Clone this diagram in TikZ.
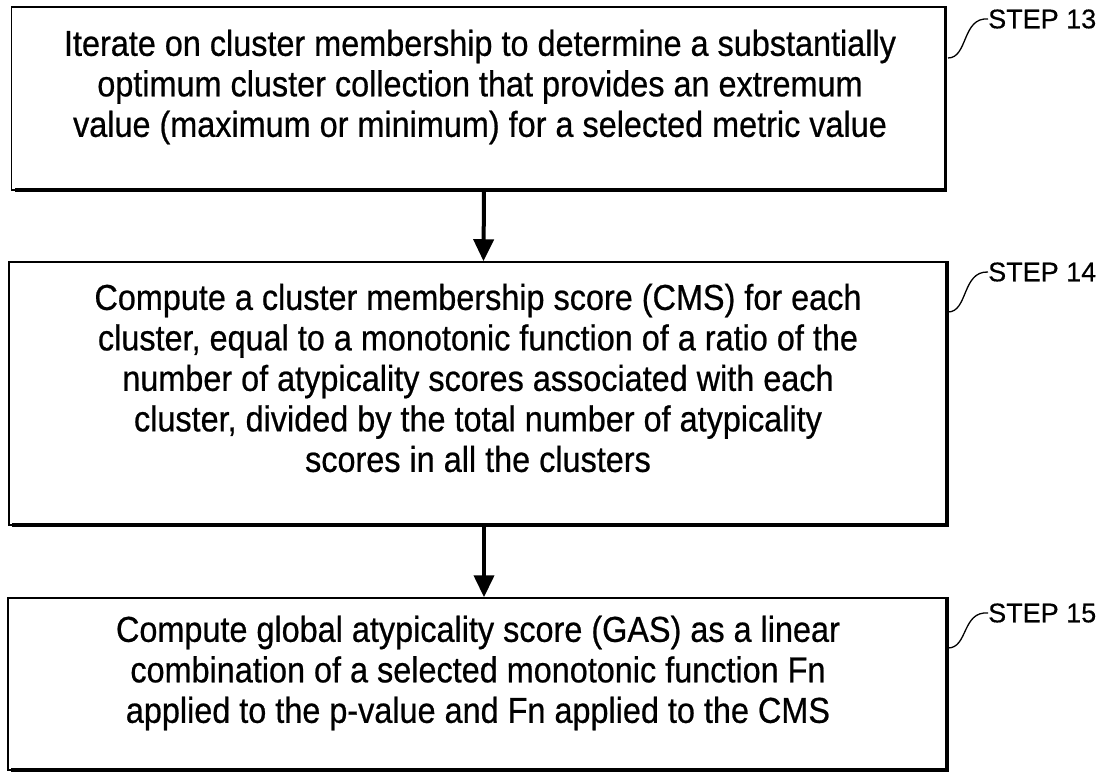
\documentclass[tikz,border=0pt]{standalone}
\usepackage{fontspec}
\setmainfont[FakeBold=0.6,FakeStretch=0.9]{Liberation Sans}
\newfontfamily\stepfont[FakeBold=0.4]{Liberation Sans}
\usetikzlibrary{arrows.meta}
\begin{document}
\begin{tikzpicture}[x=1pt,y=-1pt,
  stepbox/.style={draw=black,line width=1.5pt,minimum width=#1,inner sep=0pt},
  bodytext/.style={align=center,font=\fontsize{36}{40.5}\selectfont,inner sep=0pt},
  steptext/.style={anchor=west,font=\stepfont\fontsize{27}{30}\selectfont,inner sep=0pt},
  leader/.style={line width=1.3pt},
  flow/.style={line width=4pt,-{Triangle[length=22pt,width=20pt]}},
  shadowline/.style={line width=3.5pt}
]
\useasboundingbox (0,0) rectangle (1106,774);
% boxes
\node[stepbox=934pt,minimum height=183pt] (b1) at (478.5,98.5) {};
\node[stepbox=938pt,minimum height=263pt] (b2) at (478,393.5) {};
\node[stepbox=939pt,minimum height=172pt] (b3) at (477.5,684) {};
% shadows
\foreach \b in {b1,b2,b3}{
  \draw[shadowline] ([xshift=-1pt]\b.north east) -- ([xshift=-1pt,yshift=1pt]\b.south east) -- ([xshift=4pt,yshift=1pt]\b.south west);
}
% texts
\node[bodytext] (t1) at (480,87) {Iterate on cluster membership to determine a substantially\\optimum cluster collection that provides an extremum\\value (maximum or minimum) for a selected metric value};
\node[bodytext] (t2) at (478,378) {Compute a cluster membership score (CMS) for each\\cluster, equal to a monotonic function of a ratio of the\\number of atypicality scores associated with each\\cluster, divided by the total number of atypicality\\scores in all the clusters};
\node[bodytext] (t3) at (478,673) {Compute global atypicality score (GAS) as a linear\\combination of a selected monotonic function Fn\\applied to the p-value and Fn applied to the CMS};
% arrows
\draw[flow] ([xshift=5.5pt,yshift=1pt]b1.south) -- ([xshift=5.5pt]b2.north);
\draw[flow] ([xshift=6pt,yshift=1pt]b2.south) -- ([xshift=6.5pt]b3.north);
% step labels
\node[steptext] (s1) at (988,19) {STEP 13};
\node[steptext] (s2) at (988,272) {STEP 14};
\node[steptext] (s3) at (988,613) {STEP 15};
\coordinate (c1) at (948,58);
\coordinate (c2) at (948,312);
\coordinate (c3) at (948,648);
\draw[leader] (c1) .. controls (968,58) and (962,17) .. (s1.west);
\draw[leader] (c2) .. controls (968,312) and (962,271) .. (s2.west);
\draw[leader] (c3) .. controls (968,648) and (962,611) .. (s3.west);
\end{tikzpicture}
\end{document}
